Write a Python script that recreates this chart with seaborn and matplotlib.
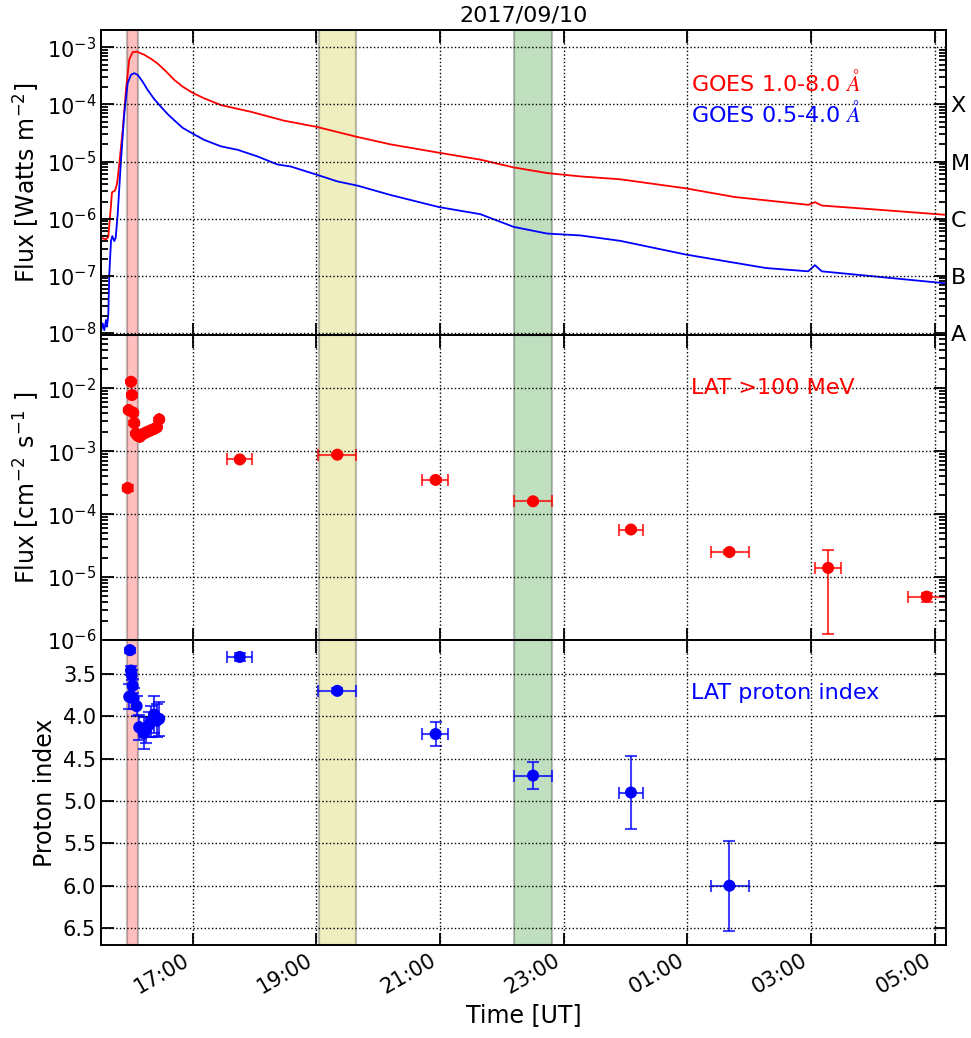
import numpy as np
import pandas as pd
import matplotlib
matplotlib.use("Agg")
import matplotlib.pyplot as plt
import matplotlib.dates as mdates
import matplotlib.ticker as mticker
import seaborn as sns

# ---------------- data (time in hours since 2017-09-10 00:00 UT) ----------------
goes_long_h = [15.519, 15.600, 15.637, 15.669, 15.697, 15.745, 15.778, 15.815, 15.870,
               15.923, 15.976, 16.031, 16.101, 16.218, 16.327, 16.435, 16.569, 16.703,
               16.839, 17.000, 17.187, 17.457,
               17.941, 18.479, 19.007, 19.664, 20.202, 20.982, 21.655, 22.193, 22.732,
               23.270, 23.916, 24.977, 25.763, 26.956, 27.065, 27.175, 27.933, 29.180]
goes_long_flux = [4.65e-7, 4.35e-7, 4.8e-7, 1.2e-6, 2.9e-6, 3.1e-6, 4.05e-6, 9.1e-6, 3.5e-5,
                  1.8e-4, 6.1e-4, 8.2e-4, 8.4e-4, 7.4e-4, 6.3e-4, 5.2e-4, 3.8e-4, 2.7e-4,
                  2.05e-4, 1.6e-4, 1.28e-4, 9.75e-5,
                  7.45e-5, 5.2e-5, 4.05e-5, 2.7e-5, 2.0e-5, 1.43e-5, 1.08e-5, 7.9e-6, 6.3e-6,
                  5.5e-6, 4.9e-6, 3.4e-6, 2.4e-6, 1.75e-6, 1.95e-6, 1.7e-6, 1.48e-6, 1.17e-6]

goes_short_h = [15.519, 15.547, 15.573, 15.600, 15.616, 15.637, 15.653, 15.681, 15.702,
                15.734, 15.757, 15.789, 15.842, 15.896, 15.950, 16.004, 16.057, 16.112,
                16.193, 16.273, 16.380, 16.488, 16.596, 16.703, 16.839, 17.000, 17.187,
                17.457, 17.727, 18.050, 18.373, 18.587,
                19.007, 19.341, 19.664, 20.202, 20.982, 21.655, 22.193, 22.732, 23.270,
                23.916, 24.977, 26.274, 26.956, 27.065, 27.175, 27.933, 29.180]
goes_short_flux = [1.05e-8, 1.47e-8, 1.12e-8, 1.69e-8, 1.29e-8, 2.07e-8, 1.05e-7, 4.06e-7, 4.97e-7,
                   4.06e-7, 4.65e-7, 1.2e-6, 1.04e-5, 7.0e-5, 2.35e-4, 3.3e-4, 3.53e-4, 3.3e-4,
                   2.5e-4, 1.8e-4, 1.24e-4, 9.1e-5, 6.8e-5, 5.3e-5, 3.9e-5, 3.1e-5, 2.4e-5,
                   1.85e-5, 1.61e-5, 1.23e-5, 8.9e-6, 8.2e-6,
                   5.9e-6, 4.5e-6, 3.8e-6, 2.6e-6, 1.6e-6, 1.2e-6, 7.2e-7, 5.5e-7, 5.1e-7,
                   4.1e-7, 2.36e-7, 1.37e-7, 1.2e-7, 1.54e-7, 1.2e-7, 1.0e-7, 7.4e-8]

# LAT >100 MeV flux
lat_h = [15.950, 15.967, 16.004, 16.020, 16.041, 16.057, 16.085, 16.117, 16.149, 16.189,
         16.230, 16.278, 16.327, 16.375, 16.424, 16.461,
         17.764, 19.341, 20.930, 22.506, 24.089, 25.682, 27.278, 28.870]
lat_h_lo = [15.946, 15.963, 16.000, 16.016, 16.037, 16.053, 16.081, 16.113, 16.145, 16.185,
            16.226, 16.274, 16.323, 16.371, 16.420, 16.457,
            17.549, 19.035, 20.716, 22.200, 23.890, 25.376, 27.070, 28.565]
lat_h_hi = [15.954, 15.971, 16.008, 16.024, 16.045, 16.061, 16.089, 16.121, 16.153, 16.193,
            16.234, 16.282, 16.331, 16.379, 16.428, 16.465,
            17.962, 19.637, 21.126, 22.813, 24.290, 26.000, 27.480, 29.180]
lat_flux = [2.6e-4, 4.5e-3, 1.27e-2, 7.8e-3, 4.1e-3, 2.8e-3, 1.9e-3, 1.75e-3, 1.7e-3, 1.85e-3,
            1.95e-3, 2.05e-3, 2.15e-3, 2.25e-3, 2.4e-3, 3.2e-3,
            7.4e-4, 8.8e-4, 3.5e-4, 1.6e-4, 5.7e-5, 2.5e-5, 1.4e-5, 4.9e-6]
lat_flux_lo = [2.3e-4, 4.2e-3, 1.2e-2, 7.3e-3, 3.8e-3, 2.6e-3, 1.8e-3, 1.65e-3, 1.6e-3, 1.75e-3,
               1.85e-3, 1.95e-3, 2.05e-3, 2.15e-3, 2.3e-3, 3.0e-3,
               7.0e-4, 8.4e-4, 3.3e-4, 1.5e-4, 5.3e-5, 2.3e-5, 1.26e-6, 4.0e-6]
lat_flux_hi = [2.9e-4, 4.8e-3, 1.34e-2, 8.3e-3, 4.4e-3, 3.0e-3, 2.0e-3, 1.85e-3, 1.8e-3, 1.95e-3,
               2.05e-3, 2.15e-3, 2.25e-3, 2.35e-3, 2.5e-3, 3.4e-3,
               7.8e-4, 9.2e-4, 3.7e-4, 1.7e-4, 6.1e-5, 2.7e-5, 2.7e-5, 5.5e-6]

# LAT proton index
idx_h = [15.976, 15.988, 16.004, 16.015, 16.031, 16.047, 16.096, 16.138, 16.209, 16.246,
         16.299, 16.335, 16.380, 16.424, 16.461,
         17.764, 19.341, 20.930, 22.506, 24.089, 25.682]
idx_h_lo = [15.972, 15.984, 16.000, 16.011, 16.027, 16.043, 16.092, 16.134, 16.205, 16.242,
            16.295, 16.331, 16.376, 16.420, 16.457,
            17.549, 19.035, 20.716, 22.200, 23.890, 25.376]
idx_h_hi = [15.980, 15.992, 16.008, 16.019, 16.035, 16.051, 16.100, 16.142, 16.213, 16.250,
            16.303, 16.339, 16.384, 16.428, 16.465,
            17.962, 19.637, 21.126, 22.813, 24.290, 26.000]
idx_val = [3.77, 3.22, 3.46, 3.51, 3.64, 3.79, 3.88, 4.13, 4.20, 4.16,
           4.10, 4.06, 3.98, 4.05, 4.03,
           3.30, 3.70, 4.21, 4.70, 4.90, 6.00]
idx_err = [0.15, 0.03, 0.05, 0.06, 0.08, 0.12, 0.12, 0.15, 0.19, 0.15,
           0.15, 0.18, 0.22, 0.20, 0.20,
           0.05, 0.03, 0.14, 0.16, 0.43, 0.53]

# shaded intervals (hours)
band_start = [15.94, 19.04, 22.20]
band_end = [16.115, 19.637, 22.813]
band_color = ["r", "y", "g"]

goes_labels = ["GOES 1.0-8.0 $\\AA$", "GOES 0.5-4.0 $\\AA$"]
goes_class = ["A", "B", "C", "M", "X"]
x_limits_h = [15.519, 29.18]

# ---------------- helpers ----------------
day0 = mdates.date2num(pd.Timestamp("2017-09-10").to_pydatetime())


def tnum(h):
    return day0 + np.asarray(h, dtype=float) / 24.0


def log_minor(lo_exp, hi_exp):
    return [k * 10.0 ** e for e in range(lo_exp, hi_exp) for k in range(2, 10)]


sns.set_style("ticks")
plt.rcParams["font.family"] = ["DejaVu Sans"]
plt.rcParams["mathtext.fontset"] = "cm"
for key in ["text.color", "axes.labelcolor", "xtick.color", "ytick.color", "axes.edgecolor"]:
    plt.rcParams[key] = "black"
plt.rcParams.update({
    "axes.axisbelow": False,
    "xtick.direction": "in", "ytick.direction": "in",
    "xtick.top": True, "ytick.right": True,
    "xtick.major.size": 9, "ytick.major.size": 9,
    "xtick.minor.size": 5, "ytick.minor.size": 5,
    "xtick.major.width": 1.3, "ytick.major.width": 1.3,
    "xtick.minor.width": 1.3, "ytick.minor.width": 1.3,
})

fig, axes = plt.subplots(3, 1, figsize=(9.71, 10.38), dpi=100, sharex=True,
                         gridspec_kw=dict(hspace=0))
fig.subplots_adjust(left=0.104, right=0.974, top=0.971, bottom=0.0896)
ax0, ax1, ax2 = axes

FS_TICK = 15
FS_LAB = 17

# ---- top panel: GOES ----
df_goes = pd.concat([
    pd.DataFrame({"t": tnum(goes_long_h), "flux": goes_long_flux, "band": "long"}),
    pd.DataFrame({"t": tnum(goes_short_h), "flux": goes_short_flux, "band": "short"}),
])
sns.lineplot(data=df_goes, x="t", y="flux", hue="band", palette={"long": "red", "short": "blue"},
             estimator=None, sort=False, legend=False, lw=1.3, ax=ax0)
ax0.set_yscale("log")
ax0.set_ylim(9.2e-9, 2e-3)
ax0.set_ylabel("Flux [Watts m$^{\\mathdefault{-2}}$]", fontsize=FS_LAB)
ax0.set_title("2017/09/10", fontsize=FS_TICK + 1)
ax0.text(0.699, 0.829, goes_labels[0], color="red", fontsize=FS_TICK + 1, transform=ax0.transAxes,
         va="center", ha="left")
ax0.text(0.699, 0.727, goes_labels[1], color="blue", fontsize=FS_TICK + 1, transform=ax0.transAxes,
         va="center", ha="left")

# ---- middle panel: LAT flux ----
lt = tnum(lat_h)
lf = np.array(lat_flux)
ax1.errorbar(lt, lf, xerr=[lt - tnum(lat_h_lo), tnum(lat_h_hi) - lt],
             yerr=[lf - np.array(lat_flux_lo), np.array(lat_flux_hi) - lf],
             fmt="none", ecolor="red", alpha=0.75, elinewidth=1.5, capsize=4, capthick=1.5)
sns.scatterplot(x=lt, y=lf, color="red", s=75, edgecolor="none", linewidth=0, ax=ax1, zorder=5)
ax1.set_yscale("log")
ax1.set_ylim(1e-6, 7e-2)
ax1.set_ylabel("Flux [cm$^{\\mathdefault{-2}}$ s$^{\\mathdefault{-1}}$ ]", fontsize=FS_LAB)
ax1.text(0.699, 0.826, "LAT >100 MeV", color="red", fontsize=FS_TICK + 1, transform=ax1.transAxes,
         va="center", ha="left")

# ---- bottom panel: proton index ----
it = tnum(idx_h)
iv = np.array(idx_val)
ax2.errorbar(it, iv, xerr=[it - tnum(idx_h_lo), tnum(idx_h_hi) - it], yerr=idx_err,
             fmt="none", ecolor="blue", alpha=0.75, elinewidth=1.5, capsize=4, capthick=1.5)
sns.scatterplot(x=it, y=iv, color="blue", s=75, edgecolor="none", linewidth=0, ax=ax2, zorder=5)
ax2.set_ylim(6.7, 3.1)
ax2.set_yticks([3.5, 4.0, 4.5, 5.0, 5.5, 6.0, 6.5])
ax2.yaxis.set_major_formatter(mticker.FormatStrFormatter("%.1f"))
ax2.set_ylabel("Proton index", fontsize=FS_LAB)
ax2.text(0.699, 0.826, "LAT proton index", color="blue", fontsize=FS_TICK + 1,
         transform=ax2.transAxes, va="center", ha="left")

ax2.set_xlim(tnum(x_limits_h[0]), tnum(x_limits_h[1]))
ax2.xaxis.set_major_locator(mdates.HourLocator(byhour=list(range(1, 24, 2))))
ax2.xaxis.set_major_formatter(mdates.DateFormatter("%H:%M"))
ax2.set_xlabel("Time [UT]", fontsize=FS_LAB)
for ax in (ax0, ax1):
    ax.set_xlabel("")

# ---- common styling (after scales are set) ----
for ax in axes:
    for s, e, c in zip(band_start, band_end, band_color):
        ax.axvspan(tnum(s), tnum(e), facecolor=c, edgecolor="k", alpha=0.25, lw=1.6, zorder=0)
    ax.grid(True, which="major", ls=":", color="k", lw=1.0)
    for sp in ax.spines.values():
        sp.set_linewidth(1.4)
        sp.set_color("k")
        sp.set_zorder(6)
    ax.tick_params(axis="both", which="major", length=9, width=1.3, labelsize=FS_TICK,
                   top=True, right=True, bottom=True, left=True, direction="in", color="k")
    ax.tick_params(axis="both", which="minor", length=5, width=1.3,
                   top=True, right=True, bottom=True, left=True, direction="in", color="k")

ax0.set_yticks(log_minor(-9, -2), minor=True)
ax0.set_ylim(9.2e-9, 2e-3)
ax1.set_yticks(log_minor(-6, -1), minor=True)
ax1.set_ylim(1e-6, 7e-2)
for ax in (ax0, ax1):
    ax.yaxis.set_minor_formatter(mticker.NullFormatter())
    ax.grid(False, which="minor")
ax0.tick_params(axis="y", which="both", right=False)

tw = ax0.twinx()
tw.set_yscale("log")
tw.set_ylim(9.2e-9, 2e-3)
tw.set_yticks([1e-8, 1e-7, 1e-6, 1e-5, 1e-4])
tw.set_yticklabels(goes_class)
tw.set_yticks(log_minor(-9, -2), minor=True)
tw.yaxis.set_minor_formatter(mticker.NullFormatter())
tw.set_ylim(9.2e-9, 2e-3)
tw.tick_params(axis="y", which="major", length=9, width=1.3, labelsize=FS_TICK + 1, direction="in",
               right=True, colors="black")
tw.tick_params(axis="y", which="minor", length=5, width=1.3, direction="in", right=True,
               color="black")
tw.grid(False)
for sp in tw.spines.values():
    sp.set_linewidth(1.4)
    sp.set_color("k")

plt.setp(ax2.get_xticklabels(), rotation=30, ha="right")

fig.savefig("out.png", dpi=100)
